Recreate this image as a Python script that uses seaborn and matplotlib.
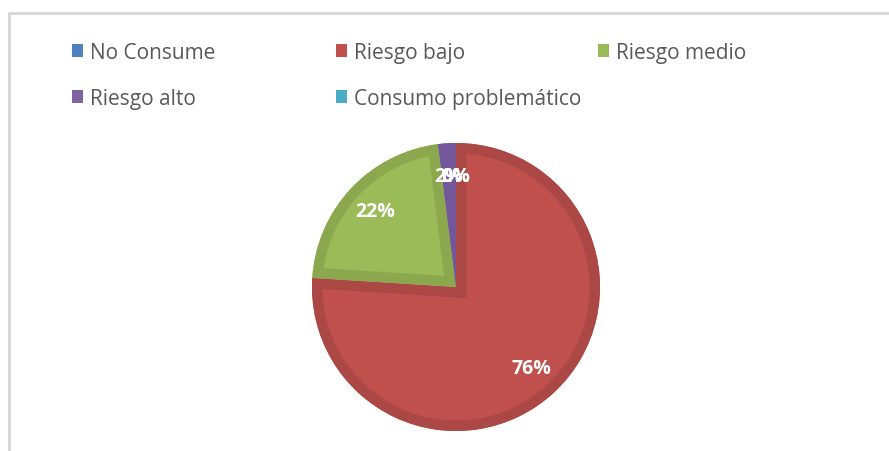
import matplotlib
matplotlib.use("Agg")
import matplotlib.pyplot as plt
import seaborn as sns
from matplotlib.lines import Line2D

categories = ["No Consume", "Riesgo bajo", "Riesgo medio", "Riesgo alto", "Consumo problemático"]
values = [0, 76, 22, 2, 0]
colors = ["#4F81BD", "#C0504D", "#9BBB59", "#8064A2", "#4BACC6"]
edges = ["#4673A8", "#AB4744", "#8BA84F", "#72589A", "#439AB1"]

sns.set_theme(style="white")
plt.rcParams['font.family'] = ['Open Sans', 'DejaVu Sans']

W, H = 889, 452
fig = plt.figure(figsize=(W / 100, H / 100), dpi=100)

# chart frame (light gray border, cut off at right/bottom)
fig.add_artist(Line2D([9 / W, 9 / W], [0, 1 - 14 / H], color="#D9D9D9", lw=2.2,
                      transform=fig.transFigure))
fig.add_artist(Line2D([9 / W, 1], [1 - 14 / H, 1 - 14 / H], color="#D9D9D9", lw=2.2,
                      transform=fig.transFigure))

r_px = 144
cx, cy = 456, 288
half = 1.12 * r_px
ax = fig.add_axes([(cx - half) / W, (H - cy - half) / H, 2 * half / W, 2 * half / H])
wedges, texts, autotexts = ax.pie(
    values, colors=colors, startangle=90, counterclock=False,
    autopct="%1.0f%%", pctdistance=0.77,
    wedgeprops=dict(linewidth=0),
    textprops=dict(color="white", fontsize=14, fontweight="bold", zorder=5))
# darker border drawn only inside each slice: a second stroked-only pie, clipped
rings, _ = ax.pie(values, startangle=90, counterclock=False,
                  wedgeprops=dict(linewidth=15, fill=False))
for w, r, e, v in zip(wedges, rings, edges, values):
    r.set_edgecolor(e)
    r.set_joinstyle("miter")
    r.set_clip_on(True)
    r.set_clip_path(w)
    if v == 0:
        w.set_visible(False)
        r.set_visible(False)
ax.set_xlim(-1.12, 1.12)
ax.set_ylim(-1.12, 1.12)
ax.set_aspect("equal")
ax.axis("off")

# legend: three columns positioned like the original
cols = [[0, 3], [1, 4], [2]]
xs = [72, 336, 598]
for idx, x in zip(cols, xs):
    leg = fig.legend([wedges[i] for i in idx], [categories[i] for i in idx],
                     loc="upper left", bbox_to_anchor=(x / W, 1 - 43 / H),
                     frameon=False, fontsize=15, labelcolor="#595959",
                     handlelength=0.55, handleheight=0.55, handletextpad=0.3,
                     labelspacing=1.2, borderpad=0, borderaxespad=0)
    for h in leg.legend_handles:
        h.set_linewidth(0)
        h.set_visible(True)

fig.savefig("out.png", dpi=100)
